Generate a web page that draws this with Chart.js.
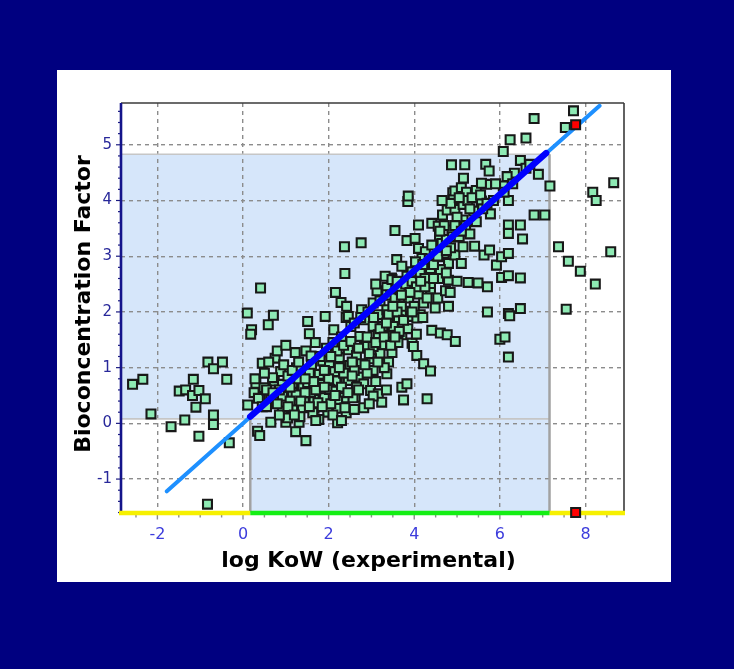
<!DOCTYPE html>
<html>
<head>
<meta charset="utf-8">
<script src="https://cdn.jsdelivr.net/npm/chart.js@4.4.1/dist/chart.umd.min.js"></script>
<style>
html,body{margin:0;padding:0;background:#000080;width:734px;height:669px;overflow:hidden}
#panel{position:absolute;left:57px;top:70px;width:614px;height:512px;background:#ffffff}
canvas{display:block}
</style>
</head>
<body>
<div id="panel"><canvas id="bcf" width="614" height="512"></canvas></div>
<script>
// Axis ranges and tick values
const kowRange = [-2.85, 8.9];
const bcfRange = [-1.6, 5.75];
const kowTicks = [-2, 0, 2, 4, 6, 8];
const bcfTicks = [-1, 0, 1, 2, 3, 4, 5];

// Applicability domain limits (log KoW, log BCF)
const domainKow = [0.17, 7.16];
const domainBcf = [0.08, 4.83];

// Regression line end points: full line and the part inside the domain
const fitKow = [-1.78, 8.33];
const fitBcf = [-1.22, 5.70];
const fitDomainKow = [0.17, 7.08];
const fitDomainBcf = [0.12, 4.85];

// Compound being evaluated
const targetKow = [7.77];
const targetBcf = [5.36];

// Training set compounds: experimental log KoW and log BCF
const logKow = [
  -2.58,-2.34,-2.15,-1.68,-1.36,-1.03,-0.69,-0.69,-0.32,-0.82,
  -0.48,-0.69,-0.38,-1.16,-1.49,-1.34,-1.18,-1.03,-0.88,-1.10,
  -0.83,0.10,0.20,0.18,0.41,0.30,0.26,0.49,0.11,0.34,
  0.39,0.45,0.28,0.36,0.45,0.71,0.59,0.75,0.88,0.73,
  0.92,0.61,0.92,0.92,0.65,0.85,0.65,0.69,0.55,0.80,
  1.00,1.22,1.47,1.25,1.16,1.43,1.16,1.39,1.31,1.23,
  1.47,1.24,1.16,1.40,1.24,1.04,1.33,1.05,1.35,1.10,
  1.51,1.55,1.69,1.92,1.51,1.82,1.78,1.66,1.90,1.66,
  1.98,1.77,1.58,1.75,1.63,1.59,1.86,1.60,1.80,1.95,
  2.16,2.29,2.41,2.12,2.25,2.02,2.45,2.17,2.41,2.02,
  2.17,2.37,2.21,2.21,2.41,2.21,2.38,2.37,2.14,2.42,
  2.05,2.46,2.42,2.52,2.46,2.50,2.46,2.38,2.10,2.30,
  2.20,2.35,2.77,2.84,2.73,2.52,2.84,2.65,2.77,2.70,
  2.82,2.98,2.62,2.82,2.57,2.76,2.60,2.60,2.75,2.92,
  3.13,3.36,3.04,3.16,3.40,3.04,3.27,3.16,3.48,3.24,
  3.20,3.00,3.48,3.04,3.36,3.16,3.24,3.47,3.32,3.36,
  3.36,3.04,3.40,3.10,3.04,3.48,3.20,3.45,3.55,3.30,
  3.55,3.87,3.79,3.91,3.63,3.51,3.71,3.95,3.71,3.83,
  3.75,3.59,3.71,3.83,3.95,3.67,3.98,3.85,3.86,3.83,
  3.60,3.80,3.95,3.70,3.62,3.85,4.10,4.38,4.22,4.49,
  4.14,4.06,4.22,4.38,4.41,4.30,4.10,4.02,4.41,4.10,
  4.26,4.41,4.18,4.14,4.38,4.38,4.03,4.55,4.06,4.20,
  4.35,4.05,4.25,4.73,4.80,4.61,4.77,4.96,4.87,4.90,
  4.66,4.56,4.77,4.88,4.59,4.65,4.57,4.80,4.57,4.80,
  4.61,4.91,4.95,4.95,4.95,4.84,4.75,4.90,4.70,4.85,
  5.18,5.10,5.22,5.45,5.14,5.39,5.14,5.45,5.14,5.41,
  5.10,5.26,5.49,5.20,5.30,5.05,5.25,5.67,5.75,5.69,
  5.57,5.57,5.78,5.63,5.76,5.92,5.71,5.71,5.60,5.85,
  6.24,6.08,6.34,6.17,6.08,6.20,6.20,6.20,6.48,6.04,
  6.20,6.04,6.20,6.48,6.20,6.23,6.48,6.00,6.12,6.20,
  6.48,6.10,6.30,6.61,6.80,6.61,6.90,7.17,6.53,6.80,
  7.05,6.70,7.37,7.60,7.88,8.23,8.59,8.17,8.25,8.66,
  7.55,7.72,7.53,0.55,0.70,0.85,1.10,1.30,1.05,1.20,
  1.45,0.95,1.35,1.55,1.70,1.85,2.00,2.10,2.30,2.35,
  1.65,1.90,2.25,2.55,2.70,2.90,3.10,2.65,2.90,3.20,
  2.95,2.55,3.40,3.60,3.75,4.00,4.25,3.50,3.90,4.15,
  4.30,3.65,4.45,4.70,5.00,5.30,4.85,5.05,4.75,5.00,
  4.65,5.15,0.50,0.60,0.80,1.00,1.15,1.30,1.45,1.55,
  1.70,1.90,2.05,2.15,2.30,2.45,2.60,2.70,2.85,2.95,
  3.05,3.15,3.30,3.35,3.45,3.55,3.70,3.35,3.95,4.05,
  4.20,3.10,4.45,4.55,4.60,4.75,4.95,5.10,5.35,5.55,
  5.70,5.90
];
const logBcf = [
  0.70,0.79,0.17,-0.06,0.06,-0.23,0.15,-0.02,-0.35,1.10,
  1.10,0.98,0.79,0.79,0.58,0.60,0.50,0.59,0.44,0.29,
  -1.45,1.98,1.68,1.60,2.43,0.72,0.55,0.64,0.33,-0.14,
  -0.22,1.08,0.80,0.45,0.30,1.94,1.77,1.17,0.93,0.76,
  0.70,0.46,0.49,0.22,0.02,0.60,0.43,0.82,0.30,0.35,
  0.02,1.27,1.30,1.00,0.55,0.43,0.25,0.28,0.02,-0.15,
  -0.31,0.87,0.72,0.66,0.51,0.10,0.12,0.85,0.95,0.40,
  1.83,1.61,1.45,1.92,0.73,0.70,0.88,0.43,0.46,0.27,
  0.20,0.07,0.55,0.37,0.19,1.21,1.12,1.05,1.20,1.35,
  2.35,2.17,1.90,1.68,1.18,1.03,1.03,0.76,0.79,0.61,
  0.58,0.46,0.40,0.27,0.19,0.01,2.69,3.17,0.93,0.96,
  0.35,1.92,2.10,1.74,1.32,1.04,0.77,0.28,1.45,1.55,
  1.30,1.40,2.04,1.86,1.56,1.47,1.38,1.22,1.07,0.83,
  0.71,0.59,0.47,0.28,0.46,3.24,0.95,1.80,1.90,2.00,
  2.38,2.44,2.16,1.95,1.89,1.74,1.74,1.59,1.62,1.41,
  1.25,1.16,1.27,0.95,0.89,0.53,0.38,2.61,2.64,2.31,
  2.04,1.38,1.10,0.75,0.49,2.58,2.20,2.30,3.46,1.00,
  2.25,2.25,2.01,1.92,1.86,1.74,1.59,1.44,0.65,0.71,
  0.42,2.94,2.82,2.64,2.72,2.40,1.38,3.98,4.08,3.28,
  2.55,2.50,2.55,2.10,1.45,1.70,2.32,2.41,2.16,2.07,
  1.95,1.22,1.07,0.94,1.67,0.44,3.56,3.32,3.59,3.14,
  3.08,3.20,2.96,2.69,2.78,2.51,2.90,2.25,1.89,2.85,
  2.95,2.45,2.60,2.38,2.10,1.62,1.59,1.47,4.64,4.14,
  3.74,3.54,3.83,3.47,3.38,3.23,2.99,2.87,2.60,2.57,
  2.76,4.02,4.17,3.84,3.02,2.35,3.30,3.35,3.05,3.15,
  4.64,4.23,4.15,4.18,3.93,3.81,3.65,3.62,3.17,3.18,
  2.87,2.53,2.52,3.55,3.40,3.35,4.00,4.65,4.53,4.29,
  4.31,3.99,3.76,3.02,3.11,2.84,2.45,2.00,3.85,4.00,
  5.09,4.88,4.49,4.43,4.26,4.00,3.56,3.41,3.56,2.99,
  3.05,2.62,2.65,2.61,1.97,1.93,2.06,1.51,1.55,1.19,
  4.72,4.15,4.30,5.12,5.47,4.58,4.47,4.26,3.31,3.74,
  3.74,4.65,3.17,2.91,2.73,2.50,3.08,4.15,4.00,4.32,
  2.05,5.61,5.31,0.60,0.55,0.15,0.65,0.80,0.30,0.15,
  0.55,1.05,0.40,0.90,0.60,0.30,0.80,0.15,0.65,0.90,
  0.75,0.95,1.00,1.10,1.35,1.55,1.45,0.65,0.90,1.70,
  1.25,0.85,1.95,2.00,1.85,2.10,2.45,2.10,2.35,2.55,
  2.25,1.65,2.85,3.55,3.70,3.85,3.95,4.05,2.70,2.55,
  4.00,4.40,0.90,1.10,1.30,1.40,0.95,1.10,0.80,0.30,
  0.05,0.65,1.20,0.50,0.05,0.55,0.25,0.60,1.05,0.35,
  1.90,1.10,1.55,0.60,1.40,1.55,2.30,1.80,2.00,1.60,
  1.90,2.50,2.60,3.00,3.45,3.10,3.55,3.45,4.05,4.10,
  3.95,4.30
];

const FONT = 'DejaVu Sans';
const pairs = (xs, ys) => xs.map((v, i) => ({ x: v, y: ys[i] }));

function strokeLine(ctx, x1, y1, x2, y2) {
  ctx.beginPath();
  ctx.moveTo(x1, y1);
  ctx.lineTo(x2, y2);
  ctx.stroke();
}

// Light-blue applicability domain, painted beneath the grid
const domainShade = {
  id: 'domainShade',
  beforeDraw(chart) {
    const { ctx, chartArea: a, scales: { x, y } } = chart;
    const x0 = x.getPixelForValue(domainKow[0]);
    const x1 = x.getPixelForValue(domainKow[1]);
    const y0 = y.getPixelForValue(domainBcf[0]);
    const y1 = y.getPixelForValue(domainBcf[1]);
    ctx.save();
    ctx.fillStyle = '#d6e6fa';
    ctx.fillRect(a.left, y1, x1 - a.left, y0 - y1);
    ctx.fillRect(x0, y1, x1 - x0, a.bottom - y1);
    ctx.restore();
  }
};

// Domain borders, frame, coloured x axis and minor ticks
const frame = {
  id: 'frame',
  beforeDatasetsDraw(chart) {
    const { ctx, chartArea: a, scales: { x, y } } = chart;
    const x0 = x.getPixelForValue(domainKow[0]);
    const x1 = x.getPixelForValue(domainKow[1]);
    const y0 = y.getPixelForValue(domainBcf[0]);
    const y1 = y.getPixelForValue(domainBcf[1]);
    ctx.save();
    ctx.lineCap = 'butt';
    ctx.strokeStyle = '#c6c6c6';
    ctx.lineWidth = 1.6;
    strokeLine(ctx, a.left, y1, x1, y1);
    strokeLine(ctx, a.left, y0, x1, y0);
    ctx.strokeStyle = '#a2a2a2';
    ctx.lineWidth = 2.5;
    strokeLine(ctx, x0, y0, x0, a.bottom);
    strokeLine(ctx, x1, y1, x1, a.bottom);

    ctx.strokeStyle = '#3a3a3a';
    ctx.lineWidth = 1.6;
    strokeLine(ctx, a.left, a.top, a.right, a.top);
    strokeLine(ctx, a.right, a.top, a.right, a.bottom);

    // x minor ticks every 0.5
    ctx.strokeStyle = '#8c8c8c';
    ctx.lineWidth = 1.4;
    for (let k = -5; k <= 17; k++) {
      const px = x.getPixelForValue(k / 2);
      strokeLine(ctx, px, a.bottom, px, a.bottom + (k % 4 === 0 ? 7 : 5));
    }
    // y minor ticks every 0.2
    ctx.strokeStyle = '#1a1a80';
    ctx.lineWidth = 1.2;
    for (let k = -8; k <= 28; k++) {
      const py = y.getPixelForValue(k / 5);
      strokeLine(ctx, a.left - (k % 5 === 0 ? 5 : 3), py, a.left, py);
    }

    // left axis
    ctx.strokeStyle = '#14148a';
    ctx.lineWidth = 2.6;
    strokeLine(ctx, a.left, a.top, a.left, a.bottom + 1);

    // bottom axis coloured by domain
    ctx.lineWidth = 4.5;
    const by = a.bottom + 0.5;
    ctx.strokeStyle = '#f6f000';
    strokeLine(ctx, a.left - 2, by, x0, by);
    strokeLine(ctx, x1, by, a.right + 1, by);
    ctx.strokeStyle = '#14ee14';
    strokeLine(ctx, x0, by, x1, by);
    ctx.restore();
  }
};

// Axis titles
const titles = {
  id: 'titles',
  afterDraw(chart) {
    const { ctx, chartArea: a } = chart;
    ctx.save();
    ctx.fillStyle = '#000000';
    ctx.font = 'bold 22px "' + FONT + '"';
    ctx.textAlign = 'center';
    ctx.textBaseline = 'alphabetic';
    ctx.fillText('log KoW (experimental)', (a.left + a.right) / 2 - 4, 497);
    ctx.translate(33, 234);
    ctx.rotate(-Math.PI / 2);
    ctx.fillText('Bioconcentration Factor', 0, 0);
    ctx.restore();
  }
};

const square = {
  pointStyle: 'rect',
  pointRadius: 6.3,
  pointHoverRadius: 6.3,
  borderColor: '#181818',
  borderWidth: 2.1
};

new Chart(document.getElementById('bcf'), {
  type: 'scatter',
  data: {
    datasets: [
      Object.assign({ label: 'Target', data: pairs(targetKow, targetBcf), backgroundColor: '#ff0000' }, square),
      Object.assign({ label: 'Target log KoW', data: targetKow.map(v => ({ x: v, y: bcfRange[0] })), backgroundColor: '#ff0000', clip: false }, square),
      {
        label: 'Fit inside domain', data: pairs(fitDomainKow, fitDomainBcf), showLine: true,
        borderColor: '#0000ff', borderWidth: 6.5, pointRadius: 0, borderCapStyle: 'round'
      },
      {
        label: 'Fit', data: pairs(fitKow, fitBcf), showLine: true,
        borderColor: '#1e90ff', borderWidth: 4, pointRadius: 0, borderCapStyle: 'round'
      },
      Object.assign({ label: 'Training set', data: pairs(logKow, logBcf), backgroundColor: '#8eeab4' }, square)
    ]
  },
  options: {
    responsive: false,
    animation: false,
    devicePixelRatio: 1,
    layout: { padding: { left: 0, top: 33, right: 47, bottom: 0 } },
    plugins: { legend: { display: false }, tooltip: { enabled: false } },
    scales: {
      x: {
        type: 'linear',
        min: kowRange[0],
        max: kowRange[1],
        afterBuildTicks: s => { s.ticks = kowTicks.map(v => ({ value: v })); },
        afterFit: s => { s.height = 69.5; },
        grid: { color: '#8c8c8c', lineWidth: 1.4, drawTicks: false },
        border: { display: false, dash: [4, 4] },
        ticks: { color: '#3c3cdc', padding: 13, font: { family: FONT, size: 16 } }
      },
      y: {
        type: 'linear',
        min: bcfRange[0],
        max: bcfRange[1],
        afterBuildTicks: s => { s.ticks = bcfTicks.map(v => ({ value: v })); },
        afterFit: s => { s.width = 64; },
        grid: { color: '#8c8c8c', lineWidth: 1.4, drawTicks: false },
        border: { display: false, dash: [4, 4] },
        ticks: { color: '#28289a', padding: 9, font: { family: FONT, size: 15 } }
      }
    }
  },
  plugins: [domainShade, frame, titles]
});
</script>
</body>
</html>
